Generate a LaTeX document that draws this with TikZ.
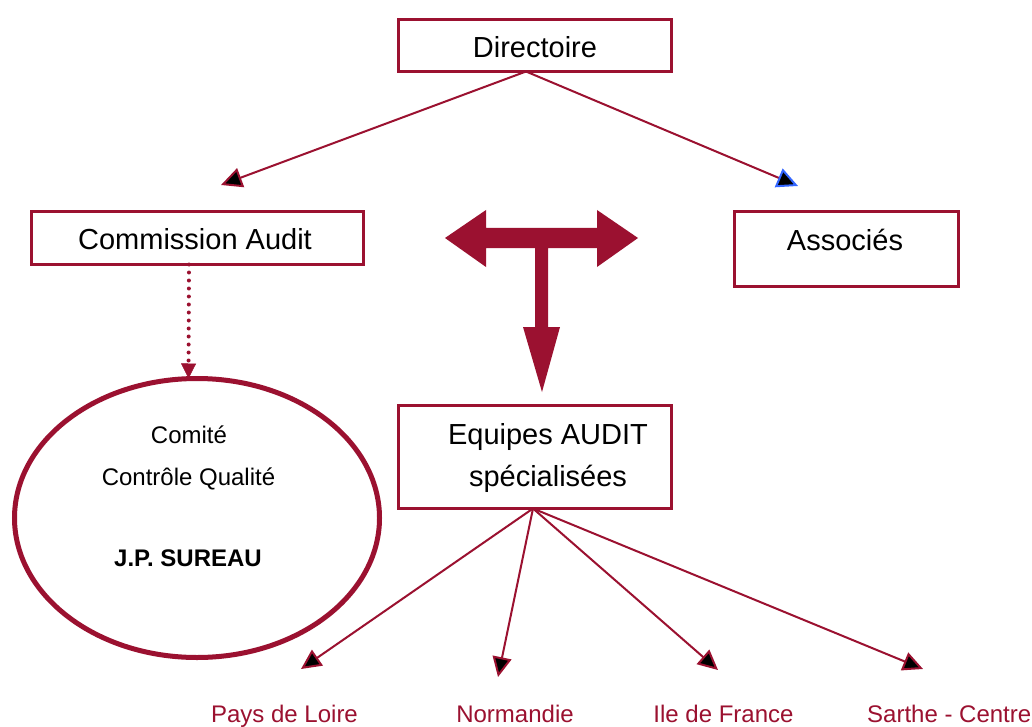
\documentclass[tikz,border=0pt]{standalone}
\usepackage{fontspec}
\setmainfont{Liberation Sans}
\usetikzlibrary{arrows.meta,shapes.geometric}
\definecolor{crim}{RGB}{155,17,48}
\definecolor{tipblue}{RGB}{51,102,255}
\begin{document}
\begin{tikzpicture}[x=1pt,y=-1pt,
  box/.style={draw=crim,line width=3pt,inner sep=0pt,outer sep=0pt,rectangle},
  ttl/.style={anchor=base,font=\fontsize{29}{34}\selectfont,inner sep=0pt},
  small/.style={anchor=base,font=\fontsize{24}{29}\selectfont,inner sep=0pt},
  region/.style={anchor=base,font=\fontsize{24}{29}\selectfont,text=crim,inner sep=0pt},
  conn/.style={draw=crim,line width=2pt},
  blacktip/.style={-{Triangle[length=21pt,width=20pt,fill=black]}},
  bluetip/.style={-{Triangle[length=21pt,width=20pt,color=tipblue,fill=black]}},
  smalltip/.style={-{Triangle[length=20pt,width=19pt,fill=black]}},
  dotline/.style={draw=crim,line width=4pt,line cap=round,dash pattern=on 0pt off 8pt,
     -{Triangle[length=15pt,width=15pt,line width=0.5pt,fill=crim]}}]
\useasboundingbox (0,0) rectangle (1032,727);
\fill[white] (0,0) rectangle (1032,727);

% boxes
\node[box,minimum width=273pt,minimum height=52pt] (dir) at (535,45.5) {};
\node[box,minimum width=332pt,minimum height=53pt] (com) at (197.5,238) {};
\node[box,minimum width=224pt,minimum height=75pt] (ass) at (846.5,249) {};
\node[box,minimum width=273pt,minimum height=103pt] (eq) at (535,457) {};
\node[draw=crim,line width=5pt,ellipse,inner sep=0pt,outer sep=0pt,
      minimum width=365pt,minimum height=279pt] (ell) at (197,518) {};

% labels
\node[ttl] (dirT) at (535,58) {Directoire};
\node[ttl] (comT) at (195,249) {Commission Audit};
\node[ttl] (assT) at (845,251) {Associés};
\node[ttl] (eqT1) at (548,444) {Equipes AUDIT};
\node[ttl] (eqT2) at (548,486) {spécialisées};
\node[small] (c1) at (189,443) {Comité};
\node[small] (c2) at (188.5,485) {Contrôle Qualité};
\node[small,font=\fontsize{24}{29}\selectfont\bfseries] (c3) at (188,566) {J.P. SUREAU};

\node[region] (pl) at (284.5,722) {Pays de Loire};
\node[region] (no) at (515,722) {Normandie};
\node[region] (idf) at (723.5,722) {Ile de France};
\node[region,anchor=base west] (sc) at (867,722) {Sarthe - Centre};

% arrow tip coordinates
\coordinate (tCom) at (221,185);
\coordinate (tAss) at (798,186);
\coordinate (tPl) at (301,669);
\coordinate (tNo) at (498,677);
\coordinate (tIdf) at (718,670);
\coordinate (tSc) at (923,669);

% connectors
\draw[conn,blacktip] ([xshift=-9pt]dir.south) -- (tCom);
\draw[conn,bluetip] ([xshift=-9pt]dir.south) -- (tAss);
\draw[dotline] ([xshift=-8.5pt]com.south) -- ([xshift=-8.5pt]ell.north);
\draw[conn,smalltip] ([xshift=-2pt]eq.south) -- (tPl);
\draw[conn,smalltip] ([xshift=-2pt]eq.south) -- (tNo);
\draw[conn,smalltip] ([xshift=-2pt]eq.south) -- (tIdf);
\draw[conn,smalltip] ([xshift=-2pt]eq.south) -- (tSc);

% T-shaped block arrow
\fill[crim] (445,238) -- (486,210) -- (486,228) -- (597,228) -- (597,210) -- (638,238)
  -- (597,267) -- (597,248) -- (548,248) -- (548,327) -- (560,327) -- (542,392)
  -- (523,327) -- (535,327) -- (535,248) -- (486,248) -- (486,267) -- cycle;
\end{tikzpicture}
\end{document}
